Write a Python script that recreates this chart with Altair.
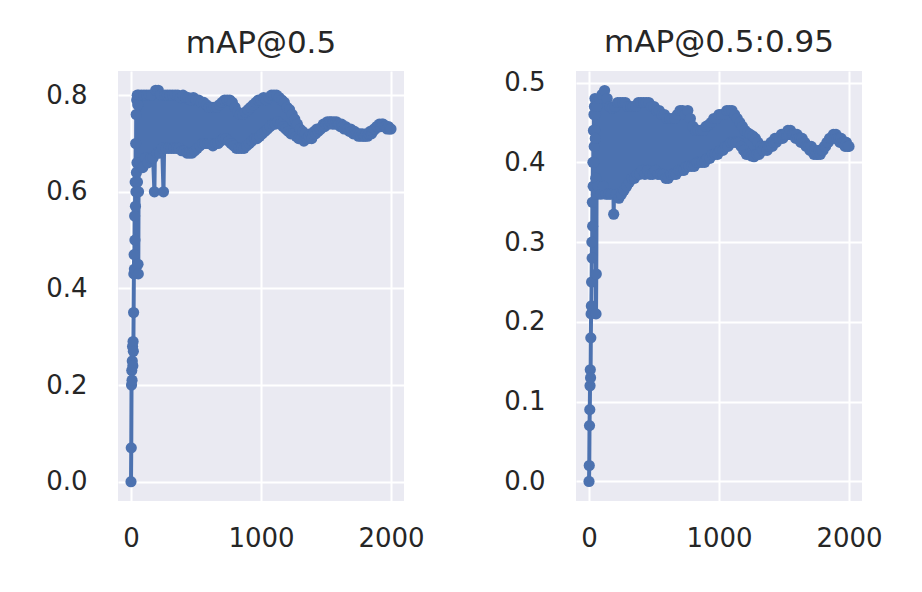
import altair as alt
import pandas as pd

# epoch index: dense for the first 60 epochs, then every 10 epochs
epochs = list(range(0, 60, 2)) + list(range(60, 2001, 10))

map50 = [
    # 0-58
    0.00, 0.07, 0.20, 0.23, 0.21, 0.25, 0.28, 0.24, 0.29, 0.27,
    0.35, 0.43, 0.47, 0.44, 0.55, 0.50, 0.62, 0.57, 0.70, 0.60,
    0.76, 0.64, 0.79, 0.66, 0.80, 0.62, 0.78, 0.45, 0.43, 0.60,
    # 60-2000 step 10
    0.80, 0.66, 0.80, 0.65, 0.80, 0.67, 0.80, 0.66, 0.80, 0.67,
    0.80, 0.67, 0.60, 0.81, 0.68, 0.81, 0.68, 0.80, 0.69, 0.60,
    0.80, 0.69, 0.80, 0.69, 0.80, 0.69, 0.80, 0.69, 0.80, 0.69,
    0.80, 0.69, 0.795, 0.685, 0.80, 0.685, 0.795, 0.68, 0.795, 0.68,
    0.79, 0.68, 0.795, 0.685, 0.79, 0.69, 0.79, 0.695, 0.785, 0.70,
    0.785, 0.70, 0.78, 0.70, 0.775, 0.70, 0.775, 0.695, 0.775, 0.70,
    0.775, 0.70, 0.78, 0.705, 0.785, 0.71, 0.79, 0.71, 0.79, 0.705,
    0.79, 0.70, 0.785, 0.695, 0.775, 0.69, 0.765, 0.69, 0.76, 0.69,
    0.76, 0.69, 0.765, 0.695, 0.77, 0.70, 0.775, 0.705, 0.78, 0.71,
    0.785, 0.71, 0.79, 0.715, 0.79, 0.72, 0.795, 0.725, 0.79, 0.73,
    0.795, 0.735, 0.80, 0.74, 0.80, 0.74, 0.80, 0.745, 0.795, 0.74,
    0.79, 0.735, 0.785, 0.73, 0.775, 0.725, 0.77, 0.72, 0.76, 0.72,
    0.75, 0.715, 0.74, 0.71, 0.73, 0.71, 0.725, 0.705, 0.72, 0.71,
    0.71, 0.715, 0.72, 0.71, 0.72, 0.725, 0.72, 0.73, 0.725, 0.73,
    0.73, 0.735, 0.74, 0.735, 0.74, 0.745, 0.74, 0.745, 0.745, 0.74,
    0.745, 0.74, 0.745, 0.74, 0.74, 0.735, 0.74, 0.735, 0.73, 0.735,
    0.73, 0.73, 0.725, 0.73, 0.725, 0.72, 0.725, 0.72, 0.72, 0.715,
    0.72, 0.715, 0.72, 0.715, 0.715, 0.72, 0.715, 0.72, 0.725, 0.72,
    0.725, 0.73, 0.73, 0.735, 0.735, 0.74, 0.735, 0.74, 0.74, 0.735,
    0.735, 0.73, 0.735, 0.73, 0.73,
]

map5095 = [
    # 0-58
    0.00, 0.02, 0.07, 0.09, 0.12, 0.14, 0.13, 0.18, 0.21, 0.22,
    0.25, 0.30, 0.28, 0.35, 0.32, 0.40, 0.37, 0.44, 0.40, 0.46,
    0.42, 0.47, 0.44, 0.48, 0.43, 0.46, 0.38, 0.21, 0.26, 0.36,
    # 60-2000 step 10
    0.47, 0.37, 0.48, 0.36, 0.485, 0.37, 0.49, 0.36, 0.48, 0.36,
    0.47, 0.36, 0.468, 0.335, 0.47, 0.36, 0.475, 0.355, 0.475, 0.36,
    0.475, 0.365, 0.475, 0.37, 0.47, 0.375, 0.47, 0.38, 0.47, 0.38,
    0.47, 0.385, 0.475, 0.385, 0.475, 0.39, 0.475, 0.385, 0.475, 0.39,
    0.475, 0.385, 0.47, 0.385, 0.47, 0.39, 0.465, 0.385, 0.465, 0.385,
    0.46, 0.385, 0.46, 0.38, 0.455, 0.38, 0.455, 0.385, 0.455, 0.385,
    0.455, 0.385, 0.46, 0.39, 0.465, 0.39, 0.465, 0.39, 0.46, 0.395,
    0.465, 0.395, 0.455, 0.395, 0.445, 0.395, 0.44, 0.40, 0.44, 0.40,
    0.44, 0.40, 0.44, 0.40, 0.445, 0.405, 0.447, 0.405, 0.45, 0.41,
    0.455, 0.41, 0.455, 0.41, 0.46, 0.415, 0.46, 0.415, 0.46, 0.42,
    0.465, 0.42, 0.465, 0.425, 0.465, 0.425, 0.46, 0.425, 0.455, 0.425,
    0.45, 0.42, 0.445, 0.415, 0.44, 0.41, 0.437, 0.41, 0.435, 0.408,
    0.433, 0.407, 0.43, 0.41, 0.425, 0.41, 0.42, 0.415, 0.415, 0.42,
    0.42, 0.415, 0.42, 0.42, 0.425, 0.42, 0.425, 0.43, 0.425, 0.43,
    0.43, 0.43, 0.435, 0.43, 0.435, 0.435, 0.435, 0.44, 0.435, 0.44,
    0.435, 0.435, 0.435, 0.43, 0.435, 0.43, 0.43, 0.425, 0.43, 0.425,
    0.425, 0.42, 0.42, 0.42, 0.415, 0.42, 0.415, 0.41, 0.415, 0.41,
    0.41, 0.415, 0.41, 0.415, 0.415, 0.42, 0.42, 0.425, 0.425, 0.43,
    0.43, 0.43, 0.435, 0.43, 0.435, 0.43, 0.43, 0.425, 0.43, 0.425,
    0.425, 0.42, 0.425, 0.42, 0.42,
]

titles = ["mAP@0.5", "mAP@0.5:0.95"]
y_domains = [[-0.04, 0.85], [-0.0245, 0.5145]]
y_ticks = [[0.0, 0.2, 0.4, 0.6, 0.8], [0.0, 0.1, 0.2, 0.3, 0.4, 0.5]]
x_ticks = [0, 1000, 2000]

BLUE = "#4C72B0"
TEXT = "#262626"
FONT = "DejaVu Sans"


def panel(values, title, ydomain, yticks):
    df = pd.DataFrame({"epoch": epochs, "value": values})
    return alt.Chart(df).mark_line(
        color=BLUE,
        strokeWidth=4,
        strokeJoin="round",
        point=alt.OverlayMarkDef(color=BLUE, size=125, filled=True, opacity=1, strokeWidth=0),
    ).encode(
        x=alt.X("epoch:Q",
                scale=alt.Scale(domain=[-100, 2100], nice=False, zero=False),
                axis=alt.Axis(values=x_ticks, title=None, format="d")),
        y=alt.Y("value:Q",
                scale=alt.Scale(domain=ydomain, nice=False, zero=False),
                axis=alt.Axis(values=yticks, title=None, format=".1f")),
    ).properties(
        width=286,
        height=430,
        title=alt.TitleParams(title, fontSize=31, font=FONT, fontWeight="normal",
                              color=TEXT, offset=11),
    )


left = panel(map50, titles[0], y_domains[0], y_ticks[0])
right = panel(map5095, titles[1], y_domains[1], y_ticks[1])

chart = alt.hconcat(left, right, spacing=172, bounds="flush").properties(
    padding={"left": 37, "top": 18, "right": 10, "bottom": 10},
    background="white",
).configure_view(
    fill="#EAEAF2", stroke=None
).configure_axis(
    grid=True, gridColor="white", gridWidth=2, gridOpacity=1,
    domain=False, ticks=False,
    labelFont=FONT, labelFontSize=26, labelColor=TEXT,
).configure_axisX(labelPadding=24).configure_axisY(labelPadding=31)

chart.save("out.html", embed_options={"renderer": "svg", "actions": False})
